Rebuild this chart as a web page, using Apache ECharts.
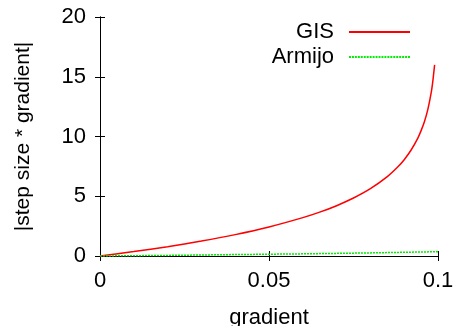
<!DOCTYPE html>
<html>
<head>
<meta charset="utf-8">
<script src="https://cdn.jsdelivr.net/npm/echarts@6/dist/echarts.min.js"></script>
<style>
  html, body { margin: 0; padding: 0; background: #fff; }
  #chart { width: 455px; height: 326px; }
</style>
</head>
<body>
<div id="chart"></div>
<script>
// values
var gisX = [0, 0.01, 0.02, 0.03, 0.04, 0.05, 0.06, 0.065, 0.07, 0.075, 0.08, 0.085, 0.088, 0.09, 0.092, 0.094, 0.095, 0.096, 0.097, 0.098, 0.0985, 0.099];
var gisY = [0, 0.37, 0.78, 1.25, 1.79, 2.43, 3.21, 3.67, 4.21, 4.85, 5.63, 6.64, 7.42, 8.06, 8.85, 9.85, 10.49, 11.26, 12.27, 13.69, 14.7, 16.0];
var armijoX = [0, 0.02, 0.04, 0.06, 0.08, 0.1];
var armijoY = [0, 0.05, 0.12, 0.18, 0.26, 0.36];
var xTicks = [0, 0.05, 0.1];
var yTicks = [0, 5, 10, 15, 20];

function pairs (xs, ys) {
  return xs.map(function (x, i) { return [x, ys[i]]; });
}

// legend samples: a solid bar and a dotted bar
var solidIcon = 'path://M0,0h61v1h-61z';
var dotted = 'path://';
for (var d = 0; d < 61; d += 3) {
  dotted += 'M' + d + ',0h2v1h-2z';
}

var font = 'Liberation Sans, Arial, sans-serif';
var tickCommon = {
  axisLine: { show: true, lineStyle: { color: '#000', width: 1 } },
  axisTick: { show: true, inside: true, length: 5, lineStyle: { color: '#000' } },
  splitLine: { show: false }
};
var legendText = { fontSize: 22, color: '#000', fontFamily: font, padding: [0, 10, 0, 0] };

var chart = echarts.init(document.getElementById('chart'));
chart.setOption({
  animation: false,
  textStyle: { fontFamily: font, color: '#000' },
  grid: { left: 100, right: 17, top: 17, bottom: 70, outerBoundsMode: 'none', containLabel: false },
  legend: [
    {
      data: [{ name: 'GIS', icon: solidIcon }], right: 45, top: 21, padding: 0,
      symbolKeepAspect: false, itemWidth: 61, itemHeight: 2, align: 'right', textStyle: legendText
    },
    {
      data: [{ name: 'Armijo', icon: dotted }], right: 45, top: 46, padding: 0,
      symbolKeepAspect: false, itemWidth: 61, itemHeight: 2, align: 'right', textStyle: legendText
    }
  ],
  xAxis: [
    Object.assign({
      type: 'value', min: xTicks[0], max: xTicks[xTicks.length - 1], interval: 0.05,
      position: 'bottom',
      name: 'gradient', nameLocation: 'middle', nameGap: 51,
      nameTextStyle: { fontSize: 22, color: '#000', fontFamily: font },
      axisLabel: { fontSize: 22, color: '#000', margin: 14, fontFamily: font }
    }, tickCommon),
    Object.assign({
      type: 'value', min: xTicks[0], max: xTicks[xTicks.length - 1], interval: 0.05,
      position: 'top', axisLabel: { show: false }
    }, tickCommon)
  ],
  yAxis: [
    Object.assign({
      type: 'value', min: yTicks[0], max: yTicks[yTicks.length - 1], interval: 5,
      position: 'left',
      name: '|step size * gradient|', nameLocation: 'middle', nameGap: 66,
      nameTextStyle: { fontSize: 21, color: '#000', fontFamily: font },
      axisLabel: { fontSize: 22, color: '#000', margin: 14, fontFamily: font }
    }, tickCommon),
    Object.assign({
      type: 'value', min: yTicks[0], max: yTicks[yTicks.length - 1], interval: 5,
      position: 'right', axisLabel: { show: false }
    }, tickCommon)
  ],
  series: [
    {
      name: 'GIS', type: 'line', data: pairs(gisX, gisY),
      symbol: 'none', smooth: 0.2,
      lineStyle: { color: '#ff0000', width: 1.5 },
      itemStyle: { color: '#ff0000' }
    },
    {
      name: 'Armijo', type: 'line', data: pairs(armijoX, armijoY),
      symbol: 'none',
      lineStyle: { color: '#00ee00', width: 1.5, type: [2, 1] },
      itemStyle: { color: '#00ee00' }
    }
  ]
});
</script>
</body>
</html>
